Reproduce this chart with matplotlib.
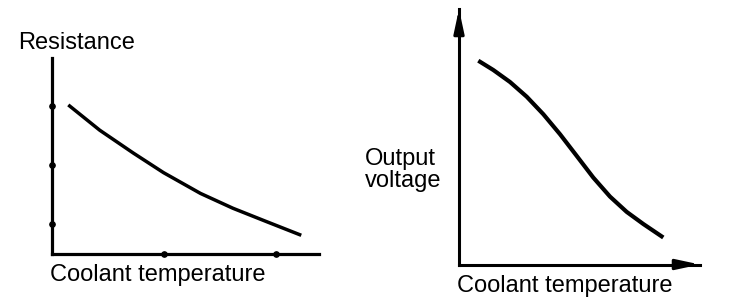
import matplotlib
matplotlib.use("Agg")
import matplotlib.pyplot as plt

# Left chart: resistance vs coolant temperature (arbitrary units)
res_temp = [0.15, 0.43, 0.73, 1.00, 1.33, 1.62, 1.92, 2.23]
res_value = [5.02, 4.17, 3.40, 2.74, 2.04, 1.54, 1.09, 0.63]
res_xticks = [1, 2]
res_yticks = [1, 3, 5]

# Right chart: output voltage vs coolant temperature (arbitrary units)
volt_temp = [0.193, 0.343, 0.51, 0.677, 0.843, 1.01, 1.177, 1.343, 1.51, 1.677, 1.843, 2.043]
volt_value = [2.038, 1.945, 1.825, 1.678, 1.503, 1.303, 1.086, 0.869, 0.679, 0.526, 0.405, 0.27]

W, H = 736, 300
fig = plt.figure(figsize=(W / 100, H / 100), dpi=100)
FONT = dict(family=["Liberation Sans", "DejaVu Sans"], fontsize=17, color="black")

def frac(x0, y_top, x1, y_bot):
    return [x0 / W, 1 - y_bot / H, (x1 - x0) / W, (y_bot - y_top) / H]

# ---- left axes
ax1 = fig.add_axes(frac(51.5, 58, 319, 254))
ax1.set_xlim(0, 267.5 / 112)
ax1.set_ylim(0, 196 / 29.7)
for s in ("top", "right"):
    ax1.spines[s].set_visible(False)
for s in ("left", "bottom"):
    ax1.spines[s].set_linewidth(2.3)
    ax1.spines[s].set_capstyle("projecting")
ax1.set_xticks([])
ax1.set_yticks([])
ax1.plot(res_temp, res_value, color="black", lw=2.5, solid_capstyle="butt")
ax1.plot(res_xticks, [0] * len(res_xticks), "o", color="black", ms=3.8, clip_on=False)
ax1.plot([0] * len(res_yticks), res_yticks, "o", color="black", ms=3.8, clip_on=False)

# ---- right axes
ax2 = fig.add_axes(frac(459, 9, 700, 264.5))
ax2.set_xlim(0, 2.41)
ax2.set_ylim(0, 2.555)
for s in ("top", "right"):
    ax2.spines[s].set_visible(False)
for s in ("left", "bottom"):
    ax2.spines[s].set_linewidth(2.2)
    ax2.spines[s].set_capstyle("projecting")
ax2.set_xticks([])
ax2.set_yticks([])
arrow = dict(arrowstyle="-|>,head_length=1.4,head_width=0.3", lw=2.2, color="black",
             shrinkA=0, shrinkB=0, mutation_scale=10)
ax2.annotate("", xy=(0, 1), xytext=(0, 0.9), xycoords="axes fraction",
             textcoords="axes fraction", arrowprops=arrow, annotation_clip=False)
ax2.annotate("", xy=(1, 0), xytext=(0.9, 0), xycoords="axes fraction",
             textcoords="axes fraction", arrowprops=arrow, annotation_clip=False)
ax2.plot(volt_temp, volt_value, color="black", lw=3.0, solid_capstyle="butt",
         solid_joinstyle="round")

# ---- labels
def label(x, y_base, s):
    fig.text(x / W, 1 - y_base / H, s, ha="left", va="baseline", **FONT)

label(18, 49, "Resistance")
label(50, 281, "Coolant temperature")
label(365, 165, "Output")
label(365, 186.5, "voltage")
label(457, 292, "Coolant temperature")

fig.savefig("out.png", dpi=100, facecolor="white")
